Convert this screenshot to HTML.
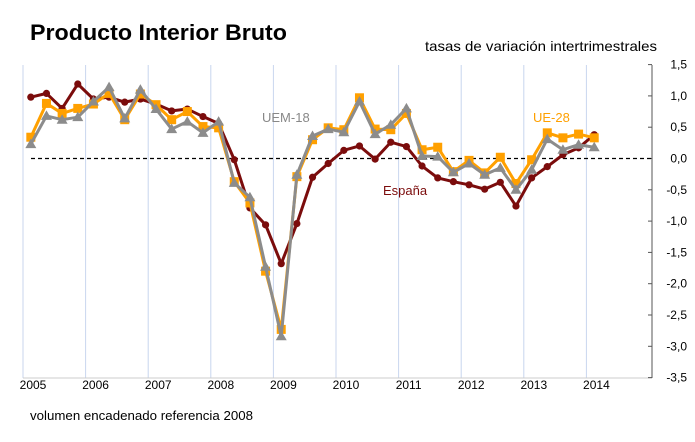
<!DOCTYPE html>
<html><head><meta charset="utf-8"><style>
body{margin:0;background:#fff;font-family:"Liberation Sans",sans-serif}
svg{display:block}
</style></head><body>
<svg id="c" width="695" height="442" xmlns="http://www.w3.org/2000/svg">
<text x="30" y="40" font-size="22" font-weight="bold" fill="#000" textLength="257" lengthAdjust="spacingAndGlyphs">Producto Interior Bruto</text>
<text x="425" y="51" font-size="14" fill="#000" textLength="232" lengthAdjust="spacingAndGlyphs">tasas de variación intertrimestrales</text>
<text x="30" y="420" font-size="13" fill="#000" textLength="223" lengthAdjust="spacingAndGlyphs">volumen encadenado referencia 2008</text>
<g id="grid"></g><g id="axis"></g><g id="series"></g>
<text x="262" y="122" font-size="13" fill="#888">UEM-18</text>
<text x="533" y="122" font-size="13" fill="#ffa000">UE-28</text>
<text x="383" y="195" font-size="13" fill="#7b0c0c">España</text>
</svg>
<script>
const years=["2005","2006","2007","2008","2009","2010","2011","2012","2013","2014"];
const yTicks=[1.5,1.0,0.5,0.0,-0.5,-1.0,-1.5,-2.0,-2.5,-3.0,-3.5];
const espana=[0.98,1.04,0.80,1.19,0.95,0.98,0.90,0.95,0.87,0.76,0.79,0.67,0.56,-0.02,-0.79,-1.06,-1.68,-1.04,-0.30,-0.08,0.13,0.20,-0.01,0.26,0.19,-0.12,-0.31,-0.37,-0.42,-0.49,-0.38,-0.76,-0.31,-0.13,0.06,0.17,0.38];
const ue28=[0.34,0.88,0.72,0.80,0.87,1.04,0.62,1.03,0.86,0.62,0.75,0.51,0.49,-0.37,-0.71,-1.80,-2.73,-0.29,0.30,0.49,0.46,0.97,0.47,0.46,0.72,0.14,0.18,-0.21,-0.03,-0.23,0.02,-0.40,-0.02,0.41,0.33,0.39,0.33];
const uem18=[0.23,0.68,0.62,0.66,0.91,1.14,0.64,1.10,0.79,0.47,0.59,0.41,0.59,-0.39,-0.62,-1.73,-2.84,-0.26,0.36,0.47,0.42,0.91,0.39,0.54,0.80,0.04,0.03,-0.22,-0.08,-0.26,-0.15,-0.50,-0.18,0.31,0.14,0.22,0.18];
const NS="http://www.w3.org/2000/svg";
const X0=23,YW=62.6,Y0=158.5,YS=62.6,TOP=65,BOT=378,RX=652;
const xq=i=>X0+YW/4*(i+0.5);
const yv=v=>Y0-v*YS;
function mk(t,a,p){const e=document.createElementNS(NS,t);for(const k in a)e.setAttribute(k,a[k]);p.appendChild(e);return e;}
const grid=document.getElementById('grid'),axis=document.getElementById('axis'),ser=document.getElementById('series');
years.forEach((y,k)=>{
 const gx=X0+k*YW;
 const l=mk('line',{x1:gx,x2:gx,y1:TOP,y2:BOT,stroke:'#c8d6ee','stroke-width':1},grid);
 
 
 const t=mk('text',{x:gx+10,y:389,'font-size':12,'text-anchor':'middle',fill:'#000'},axis);
 t.textContent=y;
 
 
});
const bl=mk('line',{x1:X0,x2:RX,y1:BOT,y2:BOT,stroke:'#ccc','stroke-width':1},axis);


const ra=mk('line',{x1:RX,x2:RX,y1:TOP,y2:BOT,stroke:'#555','stroke-width':1},axis);


yTicks.forEach(v=>{
 const y=yv(v);
 const tk=mk('line',{x1:RX-4,x2:RX,y1:y,y2:y,stroke:'#555'},axis);
 
 
 const t=mk('text',{x:687,y:y+4,'font-size':12,'text-anchor':'end',fill:'#000'},axis);
 t.textContent=v.toFixed(1).replace('.',',');
 
 
});
const z=mk('line',{x1:X0+8,x2:RX,y1:yv(0),y2:yv(0),stroke:'#000','stroke-width':1.3,'stroke-dasharray':'4,3'},axis);


function draw(data,color,shape,name){
 const g=mk('g',{},ser);
 
 
 const pl=mk('polyline',{points:data.map((v,i)=>xq(i)+','+yv(v)).join(' '),fill:'none',stroke:color,'stroke-width':3,'stroke-linejoin':'round'},g);
 
 
 data.forEach((v,i)=>{
  const x=xq(i),y=yv(v);let m;
  if(shape==='c')m=mk('circle',{cx:x,cy:y,r:3.6,fill:color},g);
  else if(shape==='s')m=mk('rect',{x:x-4.5,y:y-4.5,width:9,height:9,fill:color},g);
  else m=mk('polygon',{points:`${x},${y-5.5} ${x-5.5},${y+4} ${x+5.5},${y+4}`,fill:color},g);
  
  
 });
}
draw(espana,'#7b0c0c','c','espana');
draw(ue28,'#ffa000','s','ue28');
draw(uem18,'#8c8c8c','t','uem18');
</script>
</body></html>
